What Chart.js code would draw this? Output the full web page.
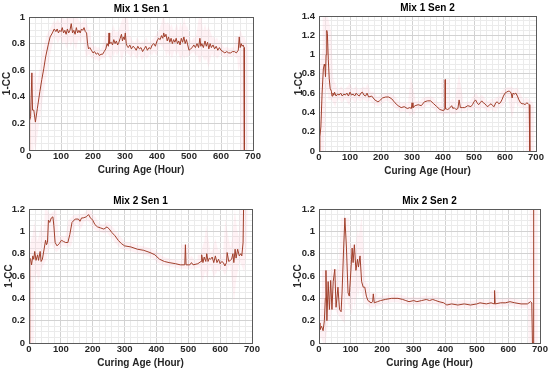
<!DOCTYPE html>
<html>
<head>
<meta charset="utf-8">
<script src="https://cdn.jsdelivr.net/npm/chart.js@4/dist/chart.umd.min.js"></script>
<style>
    body { margin: 0; background: #fff; }
    .panel { position: absolute; }
</style>
</head>
<body>
<div class="panel" style="left:0;top:0"><canvas id="mix1sen1" width="275" height="185"></canvas></div>
<div class="panel" style="left:275px;top:0"><canvas id="mix1sen2" width="275" height="185"></canvas></div>
<div class="panel" style="left:0;top:185px"><canvas id="mix2sen1" width="275" height="188"></canvas></div>
<div class="panel" style="left:275px;top:185px"><canvas id="mix2sen2" width="275" height="188"></canvas></div>
<script>
// Curing age (hours) and 1-CC readings.
const hoursM1S1 = [0, 2, 5, 9, 11, 15, 20, 26, 34, 40,
    46, 52, 60, 66, 73, 79, 84, 88, 92, 96,
    100, 104, 108, 112, 116, 120, 124, 128, 132, 136,
    140, 144, 148, 152, 156, 160, 164, 168, 172, 176,
    180, 183, 186, 190, 195, 200, 205, 210, 215, 220,
    225, 230, 235, 240, 244, 248, 250, 252, 257, 261,
    265, 269, 273, 277, 281, 285, 289, 292, 295, 298,
    301, 304, 307, 310, 315, 320, 325, 330, 335, 340,
    345, 350, 355, 360, 365, 370, 375, 380, 385, 390,
    395, 400, 405, 410, 414, 418, 421, 424, 428, 432,
    436, 440, 444, 448, 452, 456, 460, 464, 468, 472,
    476, 480, 484, 488, 492, 496, 500, 505, 510, 515,
    520, 525, 530, 534, 537, 540, 545, 550, 554, 558,
    562, 566, 570, 575, 580, 585, 590, 595, 600, 606,
    612, 618, 624, 630, 636, 642, 648, 654, 657, 660,
    663, 666, 669, 672, 673];
const valuesM1S1 = [0, 0.22, 0.25, 0.58, 0.3, 0.3, 0.21, 0.31, 0.44, 0.53,
    0.61, 0.7, 0.79, 0.85, 0.88, 0.91, 0.89, 0.91, 0.88, 0.9,
    0.89, 0.92, 0.88, 0.9, 0.87, 0.91, 0.88, 0.9, 0.95, 0.88,
    0.9, 0.87, 0.92, 0.88, 0.9, 0.88, 0.91, 0.9, 0.92, 0.89,
    0.88, 0.8, 0.76, 0.77, 0.75, 0.73, 0.74, 0.72, 0.73, 0.71,
    0.72, 0.72, 0.74, 0.76, 0.8, 0.78, 0.88, 0.8, 0.81, 0.79,
    0.83, 0.8, 0.82, 0.79, 0.81, 0.84, 0.87, 0.82, 0.85, 0.83,
    0.88, 0.8, 0.78, 0.77, 0.79, 0.76, 0.78, 0.77, 0.75, 0.78,
    0.76, 0.77, 0.74, 0.76, 0.78, 0.75, 0.77, 0.76, 0.79, 0.8,
    0.78, 0.82, 0.84, 0.83, 0.86, 0.84, 0.88, 0.85, 0.87, 0.82,
    0.85, 0.81, 0.84, 0.8, 0.83, 0.81, 0.84, 0.8, 0.82, 0.79,
    0.84, 0.81, 0.85, 0.8, 0.83, 0.79, 0.75, 0.76, 0.77, 0.79,
    0.77, 0.8, 0.77, 0.84, 0.78, 0.8, 0.77, 0.82, 0.78, 0.81,
    0.76, 0.8, 0.77, 0.79, 0.76, 0.78, 0.75, 0.77, 0.75, 0.74,
    0.73, 0.74, 0.73, 0.73, 0.74, 0.74, 0.73, 0.75, 0.85, 0.77,
    0.8, 0.78, 0.79, 0.77, 0];

const hoursM1S2 = [0, 3, 6, 10, 14, 17, 19, 21, 23, 25,
    27, 30, 33, 36, 40, 42, 45, 48, 50, 55,
    60, 65, 70, 75, 80, 85, 90, 95, 100, 105,
    110, 115, 120, 125, 130, 135, 140, 145, 150, 155,
    160, 170, 180, 190, 195, 205, 215, 225, 235, 245,
    255, 265, 275, 285, 293, 298, 300, 303, 310, 320,
    330, 340, 350, 360, 370, 380, 390, 400, 406, 407,
    408, 415, 420, 428, 432, 436, 442, 448, 452, 456,
    462, 470, 480, 490, 495, 500, 505, 510, 515, 520,
    525, 530, 535, 540, 545, 550, 555, 560, 565, 570,
    575, 580, 585, 590, 595, 600, 605, 610, 615, 620,
    623, 626, 630, 635, 640, 645, 650, 655, 660, 665,
    670, 675, 678, 680];
const valuesM1S2 = [0, 0.15, 0.25, 0.6, 0.85, 0.9, 0.88, 0.77, 1.0, 1.25,
    1.22, 0.95, 0.75, 0.65, 0.62, 0.57, 0.6, 0.58, 0.61, 0.57,
    0.59, 0.58, 0.6, 0.57, 0.59, 0.58, 0.6, 0.57, 0.61, 0.58,
    0.59, 0.57, 0.6, 0.58, 0.57, 0.6, 0.61, 0.58, 0.57, 0.6,
    0.56, 0.57, 0.53, 0.51, 0.52, 0.55, 0.56, 0.56, 0.54, 0.5,
    0.47, 0.45, 0.46, 0.44, 0.45, 0.44, 0.5, 0.45, 0.47, 0.48,
    0.47, 0.51, 0.52, 0.52, 0.49, 0.46, 0.43, 0.42, 0.43, 0.74,
    0.44, 0.43, 0.44, 0.47, 0.44, 0.45, 0.43, 0.44, 0.53, 0.45,
    0.45, 0.45, 0.47, 0.46, 0.48, 0.51, 0.53, 0.5, 0.48, 0.5,
    0.52, 0.5, 0.49, 0.47, 0.46, 0.48, 0.49, 0.47, 0.46, 0.5,
    0.51, 0.49, 0.5, 0.53, 0.57, 0.6, 0.61, 0.62, 0.62, 0.6,
    0.55, 0.6, 0.59, 0.6, 0.57, 0.53, 0.5, 0.49, 0.49, 0.48,
    0.5, 0.49, 0.48, 0];

const hoursM2S1 = [0, 2, 3, 5, 8, 12, 15, 18, 22, 27,
    30, 35, 38, 42, 48, 52, 55, 58, 61, 65,
    70, 75, 78, 82, 88, 95, 102, 108, 115, 122,
    128, 135, 145, 155, 160, 165, 170, 180, 187, 193,
    200, 207, 215, 225, 235, 245, 252, 260, 270, 280,
    290, 300, 320, 340, 360, 380, 395, 410, 425, 440,
    460, 475, 489, 491, 493, 505, 510, 515, 530, 540,
    542, 546, 550, 555, 558, 562, 566, 570, 575, 580,
    585, 590, 595, 600, 605, 610, 615, 620, 622, 627,
    632, 636, 640, 643, 647, 650, 655, 660, 665, 668,
    672, 675];
const valuesM2S1 = [0, 0, 0.76, 0.75, 0.7, 0.78, 0.75, 0.82, 0.74, 0.79,
    0.74, 0.82, 0.73, 0.75, 0.85, 0.92, 0.88, 0.9, 1.1, 1.08,
    1.12, 1.13, 1.05, 0.9, 0.87, 0.89, 0.92, 0.91, 0.9, 0.9,
    0.97, 1.08, 1.11, 1.11, 1.09, 1.12, 1.12, 1.13, 1.15, 1.12,
    1.1, 1.06, 1.04, 1.03, 1.02, 1.04, 1.02, 0.99, 0.96, 0.92,
    0.89, 0.87, 0.86, 0.84, 0.83, 0.81, 0.79, 0.75, 0.73, 0.72,
    0.71, 0.7, 0.7, 0.88, 0.7, 0.7, 0.72, 0.7, 0.71, 0.73,
    0.79, 0.72, 0.77, 0.73, 0.8, 0.73, 0.76, 0.75, 0.77, 0.72,
    0.78, 0.72, 0.75, 0.71, 0.73, 0.72, 0.69, 0.72, 0.81, 0.73,
    0.74, 0.75, 0.8, 0.72, 0.84, 0.76, 0.84, 0.78, 0.8, 0.78,
    0.9, 1.5];

const hoursM2S2 = [0, 3, 8, 13, 17, 20, 22, 25, 29, 33,
    37, 41, 45, 50, 54, 60, 65, 70, 73, 78,
    82, 87, 92, 96, 100, 105, 108, 112, 117, 122,
    125, 130, 135, 140, 145, 150, 155, 165, 170, 172,
    175, 185, 195, 210, 230, 250, 265, 275, 285, 300,
    310, 325, 340, 350, 360, 370, 380, 395, 405, 420,
    440, 460, 480, 500, 510, 530, 545, 555, 556, 558,
    575, 590, 605, 620, 640, 660, 670, 674, 676, 679,
    680];
const valuesM2S2 = [0.18, 0.12, 0.15, 0.11, 0.2, 0.4, 0.65, 0.2, 0.55, 0.3,
    0.56, 0.3, 0.55, 0.66, 0.32, 0.5, 0.3, 0.28, 0.45, 0.85,
    1.12, 0.85, 0.45, 0.42, 0.6, 0.85, 0.72, 0.88, 0.65, 0.75,
    0.68, 0.78, 0.55, 0.5, 0.5, 0.42, 0.38, 0.36, 0.37, 0.44,
    0.36, 0.37, 0.38, 0.39, 0.4, 0.4, 0.39, 0.38, 0.37, 0.38,
    0.37, 0.38, 0.39, 0.38, 0.39, 0.38, 0.37, 0.36, 0.34, 0.35,
    0.34, 0.35, 0.34, 0.35, 0.36, 0.35, 0.36, 0.35, 0.47, 0.35,
    0.36, 0.36, 0.37, 0.36, 0.35, 0.35, 0.37, 0.36, 0, 0,
    1.5];

const xMajor = 100, xMinor = 20;
const yMajor = 0.2, yMinor = 0.05;

function isMajor(value, step) {
    return Math.abs(value / step - Math.round(value / step)) < 1e-6;
}

// Draw the box around the plot area like the original figure.
const frame = {
    id: 'frame',
    afterDatasetsDraw(chart) {
        const a = chart.chartArea;
        const ctx = chart.ctx;
        ctx.save();
        ctx.strokeStyle = '#5a5a5a';
        ctx.lineWidth = 1;
        ctx.strokeRect(Math.round(a.left) + 0.5, Math.round(a.top) + 0.5,
            Math.round(a.right - a.left), Math.round(a.bottom - a.top));
        ctx.restore();
    }
};

function createCuringChart(id, title, hours, values, yMax, pad, yWidth) {
    const points = hours.map((h, i) => ({ x: h, y: values[i] }));
    const chart = document.getElementById(id);
    new Chart(chart, {
        type: 'scatter',
        data: {
            datasets: [{
                data: points,
                showLine: true,
                borderColor: '#a13f2b',
                borderWidth: 1,
                pointRadius: 0,
                tension: 0
            }, {
                // soft pink glow that sits behind the curve in the original
                data: points,
                showLine: true,
                borderColor: 'rgba(255, 160, 185, 0.14)',
                borderWidth: 8,
                pointRadius: 0,
                tension: 0
            }]
        },
        options: {
            responsive: false,
            animation: false,
            layout: { padding: pad },
            scales: {
                x: {
                    type: 'linear',
                    min: 0,
                    max: 700,
                    afterFit: (scale) => { scale.height = 26; },
                    ticks: {
                        stepSize: xMinor,
                        autoSkip: false,
                        maxRotation: 0,
                        minRotation: 0,
                        padding: 1,
                        color: '#262626',
                        font: { family: 'Liberation Sans', size: 9.5, weight: 'bold' },
                        callback: (v) => isMajor(v, xMajor) ? String(v) : ''
                    },
                    grid: {
                        drawTicks: false,
                        color: (c) => isMajor(c.tick.value, xMajor) ? '#d2d2d2' : '#ebebeb'
                    },
                    border: { color: '#5a5a5a' },
                    title: {
                        display: true,
                        text: 'Curing Age (Hour)',
                        color: '#262626',
                        padding: 0,
                        font: { family: 'Liberation Sans', size: 10, weight: 'bold' }
                    }
                },
                y: {
                    min: 0,
                    max: yMax,
                    afterFit: (scale) => { scale.width = yWidth; },
                    ticks: {
                        stepSize: yMinor,
                        autoSkip: false,
                        padding: 4,
                        color: '#262626',
                        font: { family: 'Liberation Sans', size: 9.5, weight: 'bold' },
                        callback: (v) => isMajor(v, yMajor) ? String(Number(v.toFixed(1))) : ''
                    },
                    grid: {
                        drawTicks: false,
                        color: (c) => isMajor(c.tick.value, yMajor) ? '#d2d2d2' : '#ebebeb'
                    },
                    border: { color: '#5a5a5a' },
                    title: {
                        display: true,
                        text: '1-CC',
                        color: '#262626',
                        padding: { top: 1, bottom: 0 },
                        font: { family: 'Liberation Sans', size: 10, weight: 'bold' }
                    }
                }
            },
            plugins: {
                legend: { display: false },
                tooltip: { enabled: false },
                title: {
                    display: true,
                    text: title,
                    fullSize: false,
                    color: 'black',
                    padding: { top: 2, bottom: 2 },
                    font: { family: 'Liberation Sans', size: 10, weight: 'bold' }
                }
            }
        },
        plugins: [frame]
    });
}

createCuringChart('mix1sen1', 'Mix 1 Sen 1', hoursM1S1, valuesM1S1, 1,
    { left: 0, right: 22, top: 1, bottom: 9 }, 29);
createCuringChart('mix1sen2', 'Mix 1 Sen 2', hoursM1S2, valuesM1S2, 1.4,
    { left: 17, right: 14, top: 0, bottom: 8 }, 27);
createCuringChart('mix2sen1', 'Mix 2 Sen 1', hoursM2S1, valuesM2S1, 1.2,
    { left: 2, right: 23, top: 8, bottom: 4 }, 27);
createCuringChart('mix2sen2', 'Mix 2 Sen 2', hoursM2S2, valuesM2S2, 1.2,
    { left: 16, right: 10, top: 8, bottom: 4 }, 28);
</script>
</body>
</html>
